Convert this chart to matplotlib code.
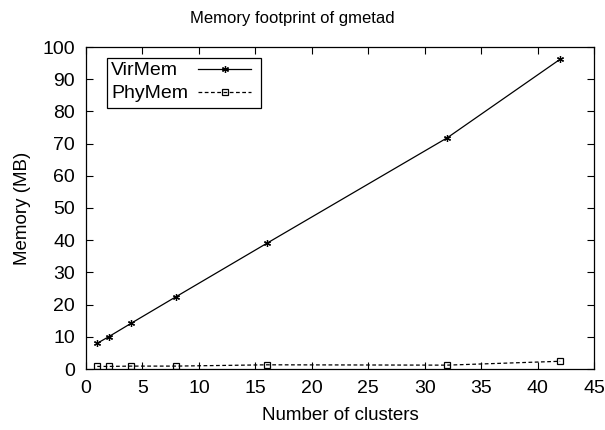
import numpy as np
import matplotlib
matplotlib.use('Agg')
from matplotlib import pyplot as plt
from matplotlib.lines import Line2D
import matplotlib.patches as patches

plt.rcParams['font.family'] = ['Liberation Sans', 'DejaVu Sans']

# data
clusters = [1, 2, 4, 8, 16, 32, 42]
virmem = [8.0, 10.0, 14.2, 22.5, 39.0, 71.8, 96.2]
phymem = [0.8, 0.8, 0.9, 0.9, 1.3, 1.2, 2.4]

W, H = 605, 430
fig = plt.figure(figsize=(W/100, H/100), dpi=100)
ax = fig.add_axes([86/W, 1 - 369/H, 508/W, 322/H])

vir_style = dict(color='black', lw=0.9, marker=(6, 2, 0), ms=5, mew=0.9)
phy_style = dict(color='black', lw=0.9, ls=(0, (3, 2)), marker='s', ms=5,
                 mfc='none', mew=0.9)
ax.plot(clusters, virmem, **vir_style)
ax.plot(clusters, phymem, **phy_style)

ax.set_xlim(0, 45)
ax.set_ylim(0, 100)
ax.set_xticks(np.arange(0, 46, 5))
ax.set_yticks(np.arange(0, 101, 10))
ax.tick_params(direction='in', top=True, right=True, labelsize=14, length=5,
               width=0.8, pad=8)
for s in ax.spines.values():
    s.set_linewidth(0.9)

ax.set_xlabel('Number of clusters', fontsize=13.5, labelpad=7)
ax.set_ylabel('Memory (MB)', fontsize=13.5, labelpad=8)
fig.text(292/W, 1 - 18/H, 'Memory footprint of gmetad', fontsize=12,
         ha='center', va='center')

# gnuplot-style key: label on the left, sample on the right
def px(x, y):
    return x/W, 1 - y/H

x0, y0 = px(107, 108)
x1, y1 = px(261, 58)
fig.patches.append(patches.Rectangle((x0, y0), x1 - x0, y1 - y0, fill=False,
                                     ec='black', lw=0.9,
                                     transform=fig.transFigure))
for name, style, yy in [('VirMem', vir_style, 70), ('PhyMem', phy_style, 93)]:
    tx, ty = px(111, yy)
    fig.text(tx, ty, name, fontsize=14, ha='left', va='center')
    lx0, ly = px(198, yy - 1)
    lx1, _ = px(251, yy - 1)
    st = dict(style)
    fig.lines.append(Line2D([lx0, lx1], [ly, ly], transform=fig.transFigure,
                            **{k: v for k, v in st.items() if k != 'marker'}))
    mx, _ = px(224.5, yy - 1)
    fig.lines.append(Line2D([mx], [ly], transform=fig.transFigure, ls='none',
                            marker=st['marker'], ms=st['ms'], mew=st['mew'],
                            color='black', mfc=st.get('mfc', 'black')))

fig.savefig('out.png', dpi=100)
